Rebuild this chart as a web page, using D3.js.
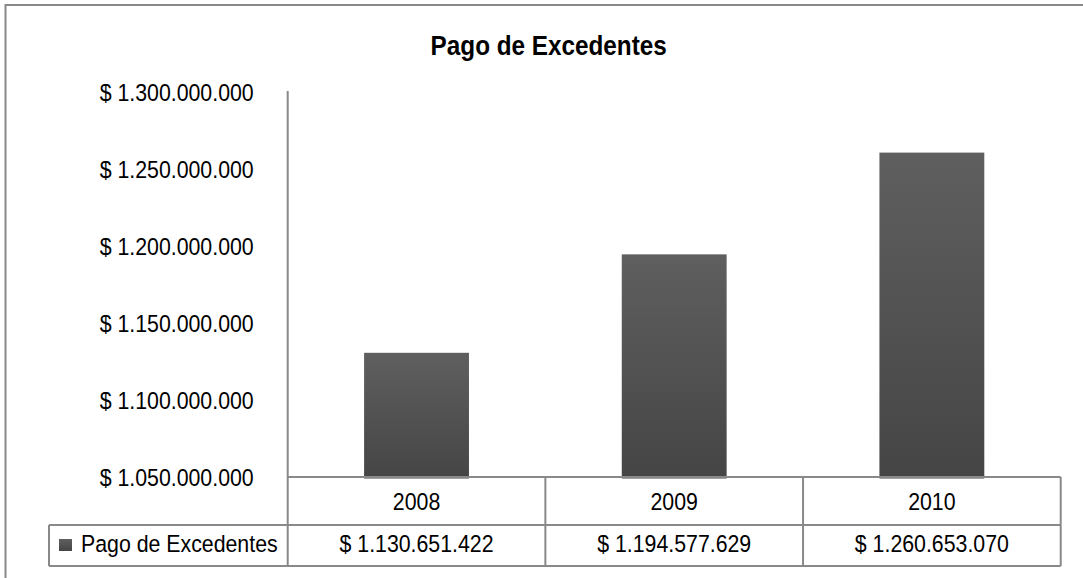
<!DOCTYPE html>
<html>
<head>
<meta charset="utf-8">
<script src="https://cdn.jsdelivr.net/npm/d3@7"></script>
<style>
  html, body { margin: 0; padding: 0; background: #fff; }
  svg { display: block; font-family: "Liberation Sans", Arial, sans-serif; }
</style>
</head>
<body>
<svg id="chart" width="1083" height="578"></svg>
<script>
// Data
const categories = ["2008", "2009", "2010"];
const values = [1130651422, 1194577629, 1260653070];
const seriesName = "Pago de Excedentes";
const yTicks = [1050000000, 1100000000, 1150000000, 1200000000, 1250000000, 1300000000];
const title = "Pago de Excedentes";

// Spanish-style currency formatting: "$ 1.300.000.000"
const locale = d3.formatLocale({ decimal: ",", thousands: ".", grouping: [3], currency: ["$ ", ""] });
const fmt = locale.format("$,.0f");

const svg = d3.select("#chart");
const sx = 0.87;   // condensed lettering for labels
const fs = 24.5;   // label font size

// Layout
const plotLeft = 287.7, plotRight = 1060.7;
const plotTop = 92, plotBottom = 477;
const rowCat = [477, 525], rowVal = [525, 566];
const legendLeft = 49;
const grey = "#898989";

const x = d3.scaleBand().domain(categories).range([plotLeft, plotRight]).paddingInner(0).paddingOuter(0);
const y = d3.scaleLinear().domain([1050000000, 1300000000]).range([plotBottom, plotTop]);
const barW = x.bandwidth() * 0.407;

// Gradient for bars and legend key
const defs = svg.append("defs");
const grad = defs.append("linearGradient").attr("id", "barGrad")
  .attr("x1", 0).attr("y1", 0).attr("x2", 0).attr("y2", 1);
grad.append("stop").attr("offset", "0%").attr("stop-color", "#5f5f5f");
grad.append("stop").attr("offset", "100%").attr("stop-color", "#454545");

// Outer frame
svg.append("rect").attr("x", 5.5).attr("y", 5).attr("width", 1200).attr("height", 700)
  .attr("fill", "#fff").attr("stroke", grey).attr("stroke-width", 2);

// Title
svg.append("text")
  .attr("transform", `translate(548.7,55) scale(0.9,1)`)
  .attr("text-anchor", "middle")
  .attr("font-size", 27).attr("font-weight", "bold").attr("fill", "#000")
  .text(title);

// Bars
svg.append("g").selectAll("rect").data(values).join("rect")
  .attr("x", (d, i) => x(categories[i]) + (x.bandwidth() - barW) / 2)
  .attr("y", d => y(d))
  .attr("width", barW)
  .attr("height", d => plotBottom + 1.5 - y(d))
  .attr("fill", "url(#barGrad)");

// Y axis
const yAxis = svg.append("g").attr("transform", `translate(${plotLeft},0)`)
  .call(d3.axisLeft(y).tickValues(yTicks).tickSize(0).tickPadding(0).tickFormat(fmt));
yAxis.select(".domain").remove();
yAxis.selectAll("text")
  .attr("x", null).attr("dy", null)
  .attr("transform", `translate(-34,0) scale(${sx},1)`)
  .attr("dominant-baseline", "central")
  .attr("font-size", fs).attr("font-family", "'Liberation Sans', Arial, sans-serif")
  .attr("fill", "#000");

svg.append("line").attr("x1", plotLeft).attr("x2", plotLeft).attr("y1", y(1300000000) - 1).attr("y2", plotBottom)
  .attr("stroke", grey).attr("stroke-width", 2);

// Data table
const tbl = svg.append("g").attr("stroke", grey).attr("stroke-width", 2).attr("fill", "none");
tbl.append("line").attr("x1", plotLeft).attr("x2", plotRight).attr("y1", rowCat[0]).attr("y2", rowCat[0]);
tbl.append("line").attr("x1", legendLeft).attr("x2", plotRight).attr("y1", rowVal[0]).attr("y2", rowVal[0]);
tbl.append("line").attr("x1", legendLeft).attr("x2", plotRight).attr("y1", rowVal[1]).attr("y2", rowVal[1]);
tbl.append("line").attr("x1", legendLeft).attr("x2", legendLeft).attr("y1", rowVal[0]).attr("y2", rowVal[1]);
const vx = categories.map(c => x(c)).concat([plotRight]);
tbl.selectAll("line.v").data(vx).join("line").attr("class", "v")
  .attr("x1", d => d).attr("x2", d => d).attr("y1", rowCat[0]).attr("y2", rowVal[1]);

// Category row
svg.append("g").selectAll("text").data(categories).join("text")
  .attr("transform", d => `translate(${x(d) + x.bandwidth() / 2},${(rowCat[0] + rowCat[1]) / 2}) scale(${sx},1)`)
  .attr("text-anchor", "middle").attr("dominant-baseline", "central")
  .attr("font-size", fs).attr("fill", "#000")
  .text(d => d);

// Value row
svg.append("g").selectAll("text").data(values).join("text")
  .attr("transform", (d, i) => `translate(${x(categories[i]) + x.bandwidth() / 2},${(rowVal[0] + rowVal[1]) / 2 - 2}) scale(${sx},1)`)
  .attr("text-anchor", "middle").attr("dominant-baseline", "central")
  .attr("font-size", fs).attr("fill", "#000")
  .text(d => fmt(d));

// Legend key in table
svg.append("rect").attr("x", 59).attr("y", 539).attr("width", 13).attr("height", 12)
  .attr("fill", "url(#barGrad)");
svg.append("text")
  .attr("transform", `translate(81,${(rowVal[0] + rowVal[1]) / 2 - 2}) scale(${sx},1)`)
  .attr("dominant-baseline", "central")
  .attr("font-size", fs).attr("fill", "#000")
  .text(seriesName);
</script>
</body>
</html>
